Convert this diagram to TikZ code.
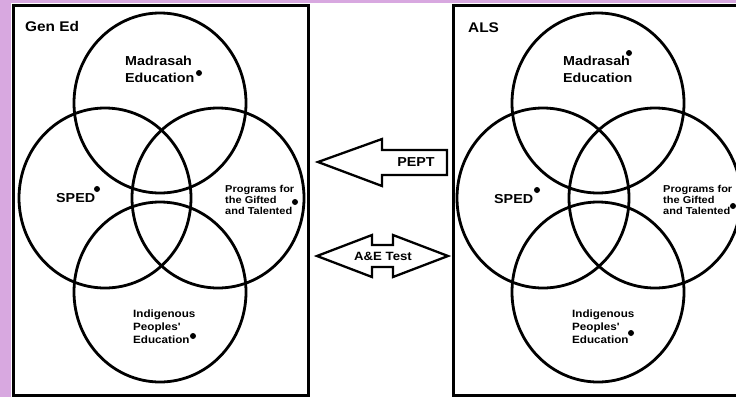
\documentclass[tikz,border=0pt]{standalone}
\usepackage{fontspec}
\newfontfamily\labfont[FakeStretch=1.1]{Liberation Sans}
\definecolor{lilac}{RGB}{216,168,224}
\begin{document}
\begin{tikzpicture}[x=1pt,y=-1pt,
  frame/.style={draw=black,line width=3pt},
  ring/.style={draw=black,line width=2.8pt},
  blockarrow/.style={draw=black,line width=2.3pt,fill=white,line join=miter},
  lab/.style={inner sep=0pt,anchor=base west,align=left,text=black},
  dotmark/.style={fill=black,draw=none}]
\useasboundingbox (0,0) rectangle (736,397);
\clip (0,0) rectangle (736,397);
\fill[lilac] (0,0) rectangle (736,397);
\fill[white] (11,3) rectangle (736,397);
% frames
\draw[frame] (13.5,5) rectangle (308,395);
\draw[frame] (453,5) rectangle (770,395);
% left venn
\draw[ring] (160,103) ellipse [x radius=86pt, y radius=90pt];
\draw[ring] (105,198) ellipse [x radius=86pt, y radius=90pt];
\draw[ring] (218,198) ellipse [x radius=86pt, y radius=90pt];
\draw[ring] (160,292) ellipse [x radius=86pt, y radius=90pt];
% right venn
\draw[ring] (598,103) ellipse [x radius=86pt, y radius=90pt];
\draw[ring] (543,198) ellipse [x radius=86pt, y radius=90pt];
\draw[ring] (655,198) ellipse [x radius=86pt, y radius=90pt];
\draw[ring] (598,292) ellipse [x radius=86pt, y radius=90pt];
% arrows
\draw[blockarrow] (318,162) -- (382,139) -- (382,150) -- (447,150) -- (447,175) -- (382,175) -- (382,186) -- cycle;
\draw[blockarrow] (317,256) -- (372,235) -- (372,245) -- (393,245) -- (393,235) -- (448,256) -- (393,277) -- (393,267) -- (372,267) -- (372,277) -- cycle;
\node[inner sep=0pt,font=\labfont\bfseries\fontsize{13}{15}\selectfont] (pept) at (416,162) {PEPT};
\node[inner sep=0pt,font=\labfont\bfseries\fontsize{12}{14}\selectfont] (ae) at (383,256) {A\&E Test};
% left labels
\node[lab,font=\labfont\bfseries\fontsize{14}{16}\selectfont] (gen) at (25,31) {Gen Ed};
\node[lab,font=\labfont\bfseries\fontsize{13}{17}\selectfont] (madL) at (125,82) {Madrasah\\Education};
\node[lab,font=\labfont\bfseries\fontsize{13}{15}\selectfont] (spedL) at (56,202) {SPED};
\node[lab,font=\labfont\bfseries\fontsize{10}{11}\selectfont] (progL) at (225,214) {Programs for\\the Gifted\\and Talented};
\node[lab,font=\labfont\bfseries\fontsize{10.6}{13}\selectfont] (indL) at (133,343) {Indigenous\\Peoples'\\Education};
\fill[dotmark] (199,73) circle (3pt);
\fill[dotmark] (97,189) circle (3pt);
\fill[dotmark] (295,202) circle (3pt);
\fill[dotmark] (193,336) circle (3pt);
% right labels
\node[lab,font=\labfont\bfseries\fontsize{14}{16}\selectfont] (als) at (468,32) {ALS};
\node[lab,font=\labfont\bfseries\fontsize{13}{17}\selectfont] (madR) at (563,82) {Madrasah\\Education};
\node[lab,font=\labfont\bfseries\fontsize{13}{15}\selectfont] (spedR) at (494,203) {SPED};
\node[lab,font=\labfont\bfseries\fontsize{10}{11}\selectfont] (progR) at (663,214) {Programs for\\the Gifted\\and Talented};
\node[lab,font=\labfont\bfseries\fontsize{10.6}{13}\selectfont] (indR) at (572,343) {Indigenous\\Peoples'\\Education};
\fill[dotmark] (629,53) circle (3pt);
\fill[dotmark] (537,190) circle (3pt);
\fill[dotmark] (733,206) circle (3pt);
\fill[dotmark] (631,333) circle (3pt);
\end{tikzpicture}
\end{document}
